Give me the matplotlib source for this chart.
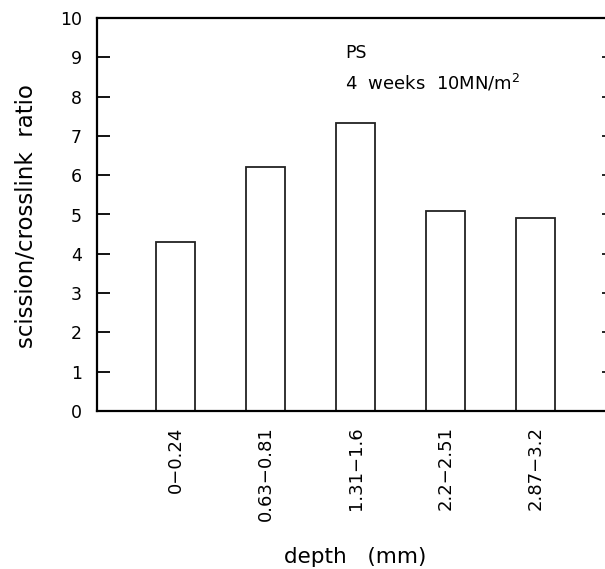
import numpy as np
import matplotlib
matplotlib.use("Agg")
from matplotlib import pyplot as plt

plt.rcParams['font.family'] = ['DejaVu Sans']

depths = ['0−0.24', '0.63−0.81', '1.31−1.6', '2.2−2.51', '2.87−3.2']
ratio = [4.3, 6.2, 7.34, 5.1, 4.92]
yticks = [0, 1, 2, 3, 4, 5, 6, 7, 8, 9, 10]

fig = plt.figure(figsize=(6.05, 5.69), dpi=100)
ax = fig.add_axes([97/605, 1-411/569, 509/605, 393/569])

x = np.arange(len(depths))
ax.bar(x, ratio, width=0.433, color='white', edgecolor='#222222', linewidth=1.3)

ax.set_xlim(-0.872, 4.78)
ax.set_ylim(0, 10)
ax.set_yticks(yticks)
ax.set_yticklabels([str(t) for t in yticks], fontsize=12.5)
ax.set_xticks(x)
ax.set_xticklabels(depths, rotation=90, fontsize=13)
ax.tick_params(axis='x', length=0, pad=11)
ax.tick_params(axis='y', which='major', direction='in', length=9, width=1.3,
               pad=11, right=False)
# short marks on the right side (no spine there)
ax2 = ax.secondary_yaxis('right')
ax2.set_yticks(yticks)
ax2.tick_params(direction='in', length=3, width=1.2, labelright=False)
ax2.spines['right'].set_visible(False)

for s in ['left', 'top', 'bottom']:
    ax.spines[s].set_linewidth(1.6)
ax.spines['right'].set_visible(False)

ax.text(0.487, 0.911, 'PS', transform=ax.transAxes, fontsize=12.5, va='center')
ax.text(0.487, 0.817, '4  weeks  10MN/m$^2$', transform=ax.transAxes,
        fontsize=13, va='baseline')

fig.text(27/605, 1-216/569, 'scission/crosslink  ratio', rotation=90,
         ha='center', va='center', fontsize=16.5)
fig.text(355/605, 1-557/569, 'depth   (mm)', ha='center', va='center',
         fontsize=15.5)

fig.savefig('out.png', dpi=100)
